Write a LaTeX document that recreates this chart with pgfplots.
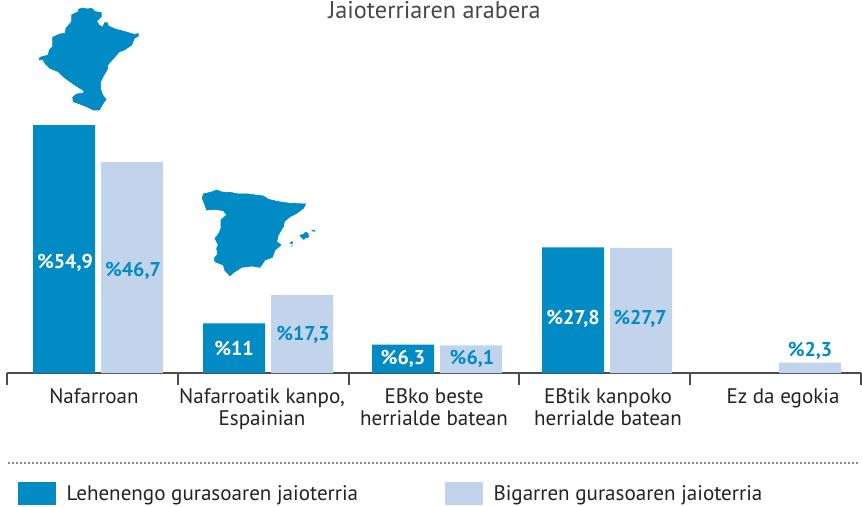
\documentclass[border=0pt]{standalone}
\usepackage{pgfplots}
\pgfplotsset{compat=1.18}
\usepackage{fontspec}
\setmainfont{PT Sans}
\definecolor{dblue}{RGB}{0,139,196}
\definecolor{lblue}{RGB}{194,212,236}
\definecolor{ink}{RGB}{35,35,35}
\begin{document}
\begin{tikzpicture}[x=0.75pt,y=0.75pt]
\useasboundingbox (0,0) rectangle (862,506);
\begin{axis}[
  at={(5.25pt,99.75pt)}, anchor=origin,
  scale only axis, width=640.5pt, height=186pt,
  xmin=7, xmax=861, ymin=0, ymax=54.9,
  clip=false,
  axis x line=bottom, axis y line=none,
  axis line style={-, color=black!70, line width=0.8pt},
  tick align=outside,
  xtick={94,262,434,608,783},
  xticklabels={Nafarroan,{Nafarroatik kanpo,\\Espainian},{EBko beste\\herrialde batean},{EBtik kanpoko\\herrialde batean},Ez da egokia},
  xticklabel style={align=center, font=\fontsize{15.8}{16.5}\selectfont, text=ink, yshift=-7.75pt},
  typeset ticklabels with strut,
  major tick length=0pt,
  minor xtick={7,178,349,519,690,861},
  minor tick length=9pt,
  minor tick style={color=black!70, line width=0.8pt},
  major x tick style={draw=none},
  legend style={at={(axis cs:18,-24.2)}, anchor=north west, draw=none, fill=none, inner sep=0pt, outer sep=0pt,
    font=\fontsize{15.8}{16.5}\selectfont, text=ink, legend columns=2,
    /tikz/every even column/.append style={column sep=63pt}},
  legend cell align=left,
]
\addplot[ybar, bar width=46.5pt, bar shift=0pt, draw=none, fill=dblue,
  legend image code/.code={\fill[dblue] (0pt,-8.6pt) rectangle (28.5pt,8.6pt); \path (34.5pt,0pt);}]
  coordinates {(64,54.9)(234,11)(403,6.3)(573,27.8)};
\addlegendentry{Lehenengo gurasoaren jaioterria}
\addplot[ybar, bar width=46.5pt, bar shift=0pt, draw=none, fill=lblue,
  legend image code/.code={\fill[lblue] (0pt,-8.6pt) rectangle (28.5pt,8.6pt); \path (34.5pt,0pt);}]
  coordinates {(132,46.7)(302,17.3)(471,6.1)(641,27.7)(810,2.3)};
\addlegendentry{Bigarren gurasoaren jaioterria}
\addplot[forget plot, only marks, mark=none, point meta=explicit symbolic,
  nodes near coords, every node near coord/.style={anchor=center, text=white, font=\fontsize{15}{16}\selectfont\bfseries}]
  coordinates {(65,24.4)[\%54,9](234,5.4)[\%11](403,3.1)[\%6,3](573,12)[\%27,8]};
\addplot[forget plot, only marks, mark=none, point meta=explicit symbolic,
  nodes near coords, every node near coord/.style={anchor=center, text=dblue, font=\fontsize{15}{16}\selectfont\bfseries}]
  coordinates {(133,22.6)[\%46,7](303,8.5)[\%17,3](472,3.1)[\%6,1](640,12)[\%27,7](810,5)[\%2,3]};
\end{axis}
\node[anchor=base, font=\fontsize{18.2}{20}\selectfont, text=black!72] at (434.5,487.5) {Jaioterriaren arabera};
\draw[color=black!45, line width=1.5pt, dash pattern=on 1.5pt off 1.5pt] (8,43) -- (860,43);
% Nafarroa map
\begin{scope}[shift={(30,506)}, x=0.25pt, y=-0.25pt]
\filldraw[dblue, line width=0.5pt, line join=round] (145,28)--(158,24)--(172,27)--(185,25)--(195,35)--(214,38)--(214,50)--(200,63)--(207,75)--(218,82)--(224,68)--(232,68)--(235,78)--(258,88)--(285,95)--(312,103)--(325,101)--(325,108)--(313,115)--(305,135)--(283,150)--(268,155)--(248,178)--(233,195)--(232,208)--(222,225)--(212,245)--(212,268)--(218,285)--(228,298)--(218,312)--(208,330)--(190,330)--(170,320)--(150,312)--(130,305)--(128,292)--(140,282)--(160,280)--(162,272)--(145,262)--(120,245)--(100,230)--(85,215)--(60,205)--(45,190)--(38,178)--(28,180)--(30,172)--(45,168)--(55,165)--(58,150)--(68,140)--(68,112)--(90,102)--(105,100)--(108,85)--(125,65)--(125,45)--(145,35)--cycle;
\end{scope}
% Spain map
\begin{scope}[shift={(195,326)}, x=0.25pt, y=-0.25pt]
\filldraw[dblue, line width=0.5pt, line join=round] (25,42)--(50,36)--(65,30)--(80,36)--(110,38)--(130,42)--(160,42)--(180,45)--(205,48)--(220,58)--(250,65)--(285,70)--(332,72)--(325,85)--(305,100)--(285,110)--(268,125)--(265,140)--(250,165)--(245,185)--(258,195)--(240,210)--(232,232)--(210,240)--(195,262)--(170,258)--(140,262)--(115,278)--(105,287)--(90,272)--(85,255)--(60,245)--(58,235)--(68,222)--(65,205)--(70,195)--(60,175)--(72,160)--(78,145)--(78,120)--(95,105)--(85,92)--(60,88)--(35,90)--(30,75)--(22,55)--cycle;
\fill[dblue] (313,165)--(325,162)--(332,155)--(340,160)--(342,172)--(330,175)--(327,180)--(318,172)--cycle;
\fill[dblue] (348,152)--(358,149)--(362,155)--(352,154)--cycle;
\fill[dblue] (285,188)--(292,183)--(294,190)--(287,193)--cycle;
\fill[dblue] (288,197)--(293,196)--(293,199)--(289,199)--cycle;
\end{scope}
\end{tikzpicture}
\end{document}
